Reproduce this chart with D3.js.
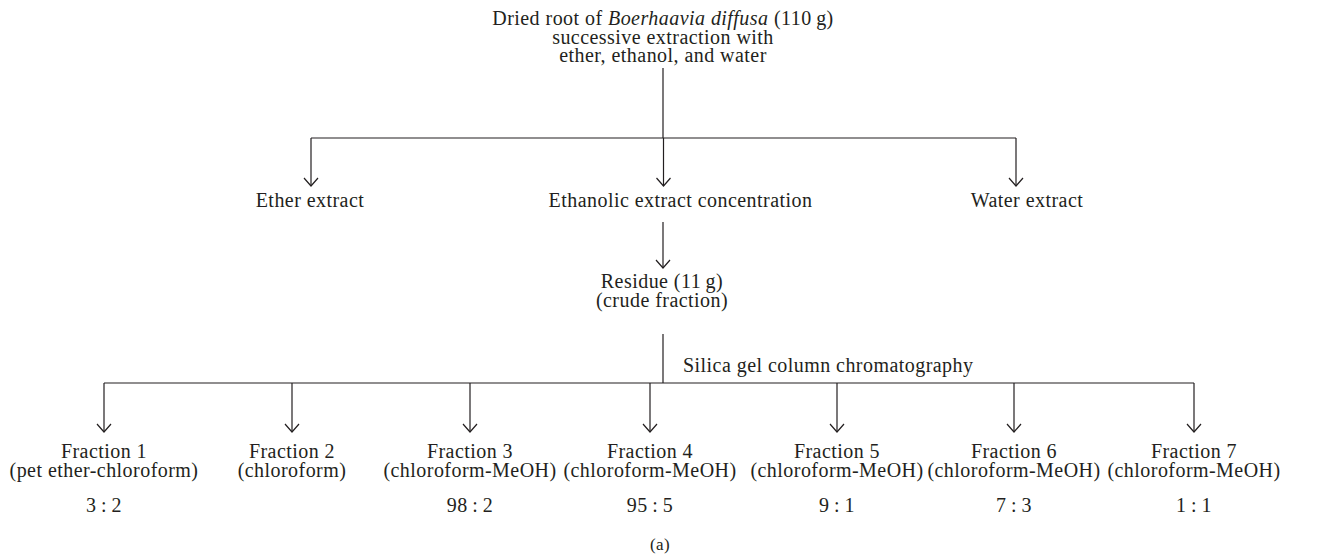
<!DOCTYPE html>
<html>
<head>
<meta charset="utf-8">
<script src="https://cdn.jsdelivr.net/npm/d3@7"></script>
<style>
  body { margin: 0; background: #fff; }
  text { font-family: "Liberation Serif", "Times New Roman", serif; font-size: 20px; fill: #231f20; letter-spacing: 0.45px; }
</style>
</head>
<body>
<div id="chart"></div>
<script>
// flow chart content
var sourceLines = ["Dried root of |Boerhaavia diffusa| (110\u2009g)", "successive extraction with", "ether, ethanol, and water"];
var extracts = ["Ether extract", "Ethanolic extract concentration", "Water extract"];
var residueLines = ["Residue (11\u2009g)", "(crude fraction)"];
var columnStep = "Silica gel column chromatography";
var fractions = ["Fraction 1", "Fraction 2", "Fraction 3", "Fraction 4", "Fraction 5", "Fraction 6", "Fraction 7"];
var solvents = ["(pet ether-chloroform)", "(chloroform)", "(chloroform-MeOH)", "(chloroform-MeOH)",
                "(chloroform-MeOH)", "(chloroform-MeOH)", "(chloroform-MeOH)"];
var ratios = ["3\u2009:\u20092", "", "98\u2009:\u20092", "95\u2009:\u20095", "9\u2009:\u20091", "7\u2009:\u20093", "1\u2009:\u20091"];
var panelLabel = "(a)";

var W = 1320, H = 555;
var svg = d3.select("#chart").append("svg").attr("width", W).attr("height", H);

var cx = 663;
var xExt = d3.scalePoint().domain(extracts).range([311, 1016]);
var xFr = d3.scalePoint().domain(fractions).range([104, 1190]);
// labels are not exactly centred on their arrows in the original
var extShift = [-1, 17, 11];
var frShift = [0, 7, 4, 3, 9, 5, 4];
function fx(d, i) { return xFr(d) + frShift[i]; }

function line(x1, y1, x2, y2) {
  svg.append("line").attr("x1", x1).attr("y1", y1).attr("x2", x2).attr("y2", y2)
    .attr("stroke", "#231f20").attr("stroke-width", 1.2);
}
function arrow(x, y1, y2) {
  line(x, y1, x, y2);
  svg.append("path").attr("d", "M" + (x - 7) + "," + (y2 - 8) + "L" + x + "," + y2 + "L" + (x + 7) + "," + (y2 - 8))
    .attr("fill", "none").attr("stroke", "#231f20").attr("stroke-width", 1.2);
}

// top source box
sourceLines.forEach(function(s, i) {
  var t = svg.append("text").attr("x", cx).attr("y", 25 + i * 18.5).attr("text-anchor", "middle");
  s.split("|").forEach(function(part, j) {
    t.append("tspan").style("font-style", j % 2 ? "italic" : "normal").text(part);
  });
});

// first split
line(cx, 68, cx, 138);
line(xExt(extracts[0]), 138, xExt(extracts[2]), 138);
extracts.forEach(function(e) { arrow(xExt(e), 138, 186); });
svg.selectAll(".ext").data(extracts).enter().append("text")
  .attr("x", function(d, i) { return xExt(d) + extShift[i]; })
  .attr("y", 207).attr("text-anchor", "middle").text(function(d) { return d; });

// residue
arrow(cx, 222, 268);
residueLines.forEach(function(s, i) {
  svg.append("text").attr("x", cx - 1).attr("y", 288 + i * 18.5).attr("text-anchor", "middle").text(s);
});

// column chromatography
line(cx, 334, cx, 383);
svg.append("text").attr("x", 683).attr("y", 372).text(columnStep);
line(fx(fractions[0], 0), 383, fx(fractions[6], 6), 383);
fractions.forEach(function(f, i) { arrow(fx(f, i), 383, 432); });

var g = svg.selectAll(".fr").data(fractions).enter().append("g");
g.append("text").attr("x", fx).attr("y", 458)
  .attr("text-anchor", "middle").text(function(d) { return d; });
g.append("text").attr("x", fx).attr("y", 477)
  .attr("text-anchor", "middle").text(function(d, i) { return solvents[i]; });
g.append("text").attr("x", fx).attr("y", 512)
  .attr("text-anchor", "middle").text(function(d, i) { return ratios[i]; });

svg.append("text").attr("x", cx - 3).attr("y", 550).attr("text-anchor", "middle")
  .style("font-size", "17px").text(panelLabel);
</script>
</body>
</html>
